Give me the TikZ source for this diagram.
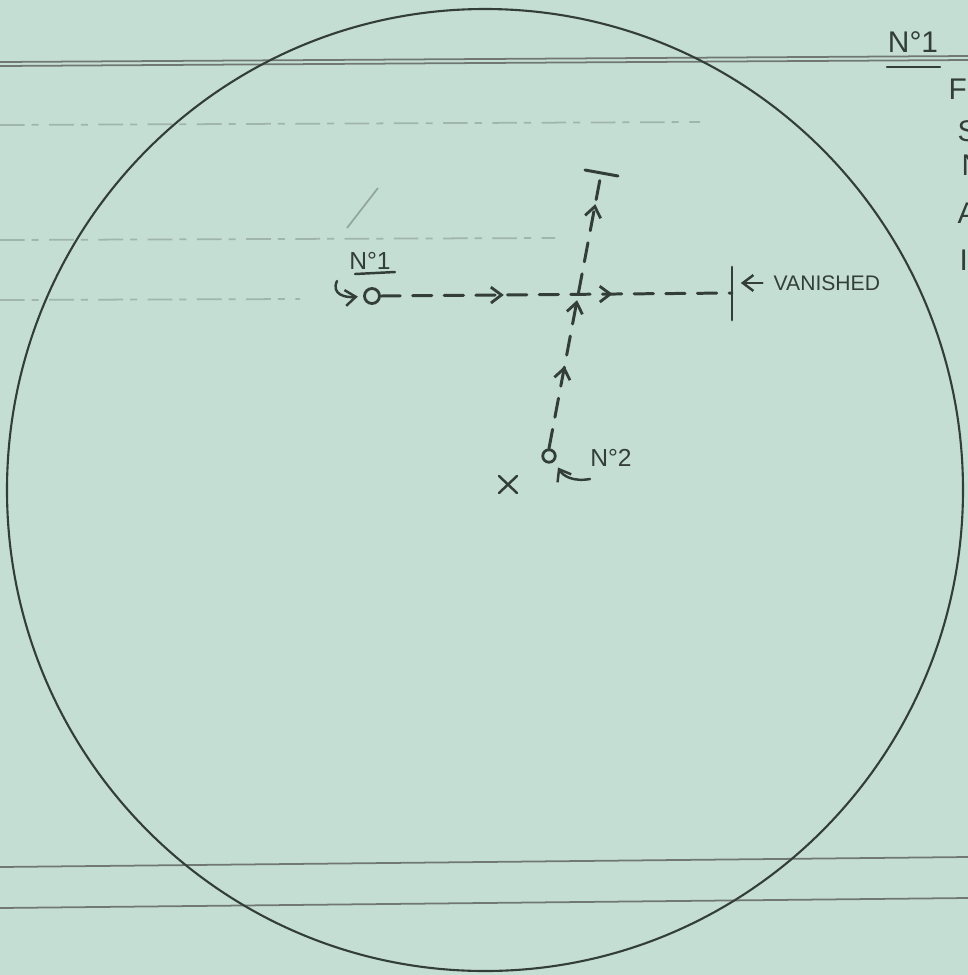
\documentclass[tikz,border=0pt]{standalone}
\usepackage{fontspec}
\setmainfont{Liberation Sans}
\usetikzlibrary{positioning,arrows.meta,decorations.markings}
\definecolor{paper}{RGB}{196,222,212}
\definecolor{ink}{RGB}{52,62,57}

\begin{document}
\begin{tikzpicture}[
    x=0.01cm, y=-0.01cm,
    >={Straight Barb[length=3pt, width=4.5pt]},
    pen/.style={draw=ink, line width=0.85pt, line cap=round},
    track/.style={pen, dash pattern=on 5.5pt off 3.5pt},
    rule/.style={draw=ink!70, line width=0.5pt},
    faint/.style={draw=ink!25!paper, line width=0.5pt, dash pattern=on 7pt off 2pt on 2pt off 3pt},
    obj/.style={circle, draw=ink, line width=0.8pt, minimum size=1.25mm, inner sep=0pt},
    lbl/.style={text=ink, inner sep=0pt, font=\fontsize{7}{8}\selectfont},
    edge/.style={text=ink, inner sep=0pt, anchor=west, font=\fontsize{8.5}{10}\selectfont},
  ]
    \clip (0,0) rectangle (968,975);
    \fill[paper] (0,0) rectangle (968,975);

    % ruled lines of the sheet
    \draw[rule] (0,62) -- (968,56);
    \draw[rule] (0,66) -- (968,60);
    \draw[rule] (0,867) -- (968,857);
    \draw[rule] (0,908) -- (968,898);
    \draw[faint] (0,125) -- (700,122);
    \draw[faint] (0,240) -- (555,238);
    \draw[faint] (0,300) -- (300,299);
    \draw[draw=ink!35!paper, line width=0.5pt] (378,188) -- (347,228);

    % field of view
    \draw[draw=ink, line width=0.6pt] (485,490) ellipse [x radius=478, y radius=481];

    % sheet number and cut off column
    \node[lbl, font=\fontsize{8.5}{10}\selectfont] (sheetno) at (913,42) {N°1};
    \draw[pen, line width=0.7pt] (887,67) -- (940,67);
    \foreach \n/\x/\y/\t in {f/948/89/F, s/957/131/S, n/961/165/N, a/957/213/A, i/959/260/I}
      \node[edge] (col\n) at (\x,\y) {\t};

    % object 1, moving right
    \node[obj, minimum width=1.5mm] (o1) at (372,296) {};
    \node[lbl] (lbl1) at (370,261) {N°1};
    \draw[pen, line width=0.7pt] (355,274) -- (395,272);
    \coordinate (hk1) at (337,281);
    \draw[pen, line width=0.7pt, ->, shorten >=1.5pt] (hk1) .. controls (331,294) and (345,298) .. (o1.west);

    \coordinate (stop1) at (732,293);
    \draw[pen] (732,267) -- (732,320);
    \draw[track, postaction={decorate, decoration={markings,
        mark=at position 0.35 with {\arrow[ink, line width=0.8pt]{>}},
        mark=at position 0.66 with {\arrow[ink, line width=0.8pt]{>}}}}]
      (o1.east) -- (stop1);

    \node[lbl, anchor=west, font=\fontsize{6}{7}\selectfont] (vanlbl) at (773,283) {VANISHED};
    \draw[pen, line width=0.7pt, ->, shorten <=3pt, shorten >=2.5pt] (vanlbl.west) -- (vanlbl.west -| stop1);

    % object 2, moving up
    \node[obj] (o2) at (549,456) {};
    \node[lbl] (lbl2) at (611,458) {N°2};
    \coordinate (hk2) at (590,479);
    \draw[pen, line width=0.7pt, ->, shorten >=2pt] (hk2) .. controls (573,482) and (563,476) .. (o2.south east);

    \coordinate (stop2) at (601,174);
    \draw[pen] (585,170) -- (618,176);
    \draw[track, postaction={decorate, decoration={markings,
        mark=at position 0.30 with {\arrow[ink, line width=0.8pt]{>}},
        mark=at position 0.54 with {\arrow[ink, line width=0.8pt]{>}},
        mark=at position 0.89 with {\arrow[ink, line width=0.8pt]{>}}}}]
      (o2.north) -- (stop2);

    % observer
    \draw[pen, line width=0.7pt] (499,476) -- (517,493) (517,476) -- (499,493);
  \end{tikzpicture}
\end{document}
